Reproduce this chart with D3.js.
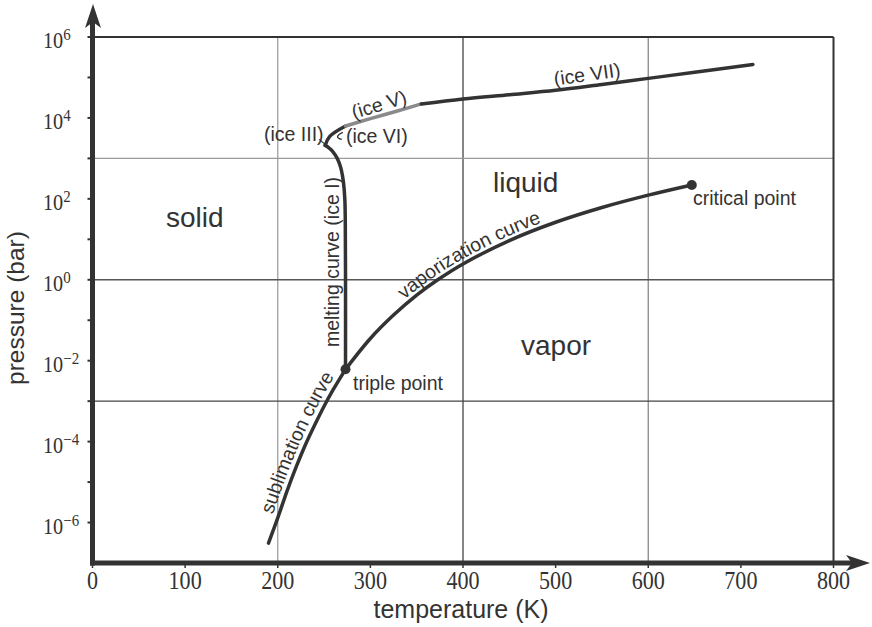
<!DOCTYPE html>
<html>
<head>
<meta charset="UTF-8">
<title>Phase diagram of water</title>
<script src="https://cdn.jsdelivr.net/npm/d3@7/dist/d3.min.js"></script>
<style>
  body { margin: 0; background: #fff; }
  text { fill: #333; font-family: "Liberation Sans", Arial, sans-serif; }
  .tick { font-family: "Liberation Serif", "Times New Roman", serif; }
</style>
</head>
<body>
<svg id="chart" width="872" height="627"></svg>
<script>
// sublimation curve (ice I / vapor), K and bar
var subT = [190, 200, 210, 220, 230, 240, 250, 260, 273.16];
var subP = [3.1e-7, 1.3e-6, 6.0e-6, 2.4e-5, 8.5e-5, 2.6e-4, 7.5e-4, 1.95e-3, 6.12e-3];
// vaporization curve (liquid / vapor) up to the critical point
var vapT = [273.16, 300, 325, 350, 373.15, 400, 450, 500, 550, 600, 647];
var vapP = [6.12e-3, 3.54e-2, 0.134, 0.417, 1.013, 2.46, 9.32, 26.4, 61.2, 123.5, 220.6];
// melting curve of ice I
var meltT = [273.16, 273.16, 272.9, 272.4, 271.0, 268.8, 266.5, 264.2, 259.2, 255.5, 251.165];
var meltP = [6.12e-3, 1, 30, 100, 250, 500, 750, 1000, 1500, 1800, 2099];
// high pressure ice boundaries
var ice3T = [251.165, 256.165, 273.31];
var ice3P = [2099, 3501, 6324];
var ice5T = [273.31, 300, 330, 355];
var ice5P = [6324, 9600, 15000, 22160];
var ice7T = [355, 400, 450, 500, 550, 600, 650, 713];
var ice7P = [22160, 29500, 37500, 48000, 67000, 95000, 134000, 210000];
// special points
var tripleT = 273.16, tripleP = 6.12e-3;
var critT = 647, critP = 220.6;

var xTicks = [0, 100, 200, 300, 400, 500, 600, 700, 800];
var yTickExp = [-6, -4, -2, 0, 2, 4, 6];
var yMinorExp = [-5, -3, -1, 1, 3, 5];
var gridT = [200, 400, 600];
var gridP = [1e-6, 1e-3, 1, 1e3];

var gridColT = { 200: "#a0a0a0", 400: "#444", 600: "#888" };
var gridColP = { "1e-6": "#444", "0.001": "#444", "1": "#555", "1000": "#999" };

var svg = d3.select("#chart");
var x = d3.scaleLinear().domain([0, 800]).range([92.5, 833.5]);
var y = d3.scaleLog().domain([1e-7, 1e6]).range([563, 37]);

function pts(T, P) { return T.map(function (t, i) { return [t, P[i]]; }); }
var line = d3.line().x(function (d) { return x(d[0]); }).y(function (d) { return y(d[1]); })
    .curve(d3.curveCatmullRom);

// grid
svg.selectAll(".gx").data(gridT).enter().append("line")
    .attr("x1", function (d) { return x(d); }).attr("x2", function (d) { return x(d); })
    .attr("y1", y(1e6)).attr("y2", y(1e-7))
    .style("stroke", function (d) { return gridColT[d]; }).style("stroke-width", 1.3);
svg.selectAll(".gy").data(gridP).enter().append("line")
    .attr("x1", x(0)).attr("x2", x(800))
    .attr("y1", function (d) { return y(d); }).attr("y2", function (d) { return y(d); })
    .style("stroke", function (d) { return gridColP[String(d)]; }).style("stroke-width", 1.3);
// frame top / right
svg.append("line").attr("x1", x(0)).attr("x2", x(800)).attr("y1", y(1e6)).attr("y2", y(1e6))
    .style("stroke", "#333").style("stroke-width", 2);
svg.append("line").attr("x1", x(800)).attr("x2", x(800)).attr("y1", y(1e6)).attr("y2", y(1e-7))
    .style("stroke", "#333").style("stroke-width", 2);

// curves
var curveDefs = [
    { id: "subPath", T: subT, P: subP, col: "#333" },
    { id: "vapPath", T: vapT, P: vapP, col: "#333" },
    { id: "meltPath", T: meltT, P: meltP, col: "#333" },
    { id: "ice3Path", T: ice3T, P: ice3P, col: "#333" },
    { id: "ice5Path", T: ice5T, P: ice5P, col: "#8a8a8a" },
    { id: "ice7Path", T: ice7T, P: ice7P, col: "#333" }
];
curveDefs.forEach(function (c) {
    svg.append("path").attr("id", c.id)
        .attr("d", line(pts(c.T, c.P)))
        .style("fill", "none").style("stroke", c.col).style("stroke-width", 3.5)
        .style("stroke-linecap", "round");
});

// small leader marks
var jx = x(ice3T[0]), jy = y(ice3P[0]);
svg.append("line").attr("x1", jx - 6).attr("y1", jy - 6).attr("x2", jx).attr("y2", jy - 1)
    .style("stroke", "#333").style("stroke-width", 1.2);
var kx = x(ice3T[1]), ky = y(ice3P[1]);
svg.append("path")
    .attr("d", "M" + (kx + 13) + "," + (ky - 4) + " Q" + (kx + 3) + "," + (ky + 1) + " " + (kx + 12) + "," + (ky + 3))
    .style("fill", "none").style("stroke", "#333").style("stroke-width", 1.4);

// points
svg.selectAll(".pt").data([[tripleT, tripleP], [critT, critP]]).enter().append("circle")
    .attr("cx", function (d) { return x(d[0]); }).attr("cy", function (d) { return y(d[1]); })
    .attr("r", 5).style("fill", "#333");

// axes
svg.append("line").attr("x1", x(0)).attr("x2", x(0)).attr("y1", 565.5).attr("y2", 22)
    .style("stroke", "#333").style("stroke-width", 5);
svg.append("line").attr("x1", 90).attr("x2", 855).attr("y1", y(1e-7)).attr("y2", y(1e-7))
    .style("stroke", "#333").style("stroke-width", 5);
svg.append("path").attr("d", "M93,4 L101,28 L93,22 L85,28 Z").style("fill", "#333");
svg.append("path").attr("d", "M870,563 L846,555 L852,563 L846,571 Z").style("fill", "#333");

// y ticks
svg.selectAll(".ty").data(yTickExp.concat(yMinorExp)).enter().append("line")
    .attr("x1", x(0) - 5).attr("x2", x(0))
    .attr("y1", function (d) { return y(Math.pow(10, d)); }).attr("y2", function (d) { return y(Math.pow(10, d)); })
    .style("stroke", "#333").style("stroke-width", 2);
var yl = svg.selectAll(".yl").data(yTickExp).enter().append("text").attr("class", "tick")
    .attr("transform", function (d) { return "translate(43," + (y(Math.pow(10, d)) + 11) + ") scale(0.88,1)"; });
yl.append("tspan").style("font-size", "23px").text("10");
yl.append("tspan").style("font-size", "17px").attr("dy", -8)
    .text(function (d) { return d < 0 ? "\u2212" + (-d) : d; });

// x ticks
svg.selectAll(".tx").data(xTicks).enter().append("line")
    .attr("x1", function (d) { return x(d); }).attr("x2", function (d) { return x(d); })
    .attr("y1", y(1e-7)).attr("y2", y(1e-7) + 5)
    .style("stroke", "#333").style("stroke-width", 1.5);
svg.selectAll(".xl").data(xTicks).enter().append("text").attr("class", "tick")
    .attr("transform", function (d) { return "translate(" + x(d) + ",589) scale(0.85,1)"; })
    .attr("text-anchor", "middle").style("font-size", "26px").text(function (d) { return d; });

// axis titles
svg.append("text").attr("x", 461).attr("y", 618).attr("text-anchor", "middle")
    .style("font-size", "25px").text("temperature (K)");
svg.append("text").attr("transform", "translate(24,308) rotate(-90)").attr("text-anchor", "middle")
    .style("font-size", "24.5px").text("pressure (bar)");

// region labels
svg.append("text").attr("x", 166).attr("y", 227).style("font-size", "28px").text("solid");
svg.append("text").attr("x", 493).attr("y", 192).style("font-size", "28px").text("liquid");
svg.append("text").attr("x", 521).attr("y", 355).style("font-size", "28px").text("vapor");

// labels along curves
function offsetAt(id, test) {
    var p = document.getElementById(id), L = p.getTotalLength();
    for (var l = 0; l < L; l += 0.5) { if (test(p.getPointAtLength(l))) return l; }
    return 0;
}
svg.append("g").attr("transform", "translate(-5,-3)")
    .append("text").style("font-size", "19.5px")
    .append("textPath").attr("href", "#subPath")
    .attr("startOffset", offsetAt("subPath", function (p) { return p.y <= 518; }))
    .text("sublimation curve");
svg.append("g").attr("transform", "translate(-2,-4)")
    .append("text").style("font-size", "19.5px")
    .append("textPath").attr("href", "#vapPath")
    .attr("startOffset", offsetAt("vapPath", function (p) { return p.x >= 406; }))
    .text("vaporization curve");
svg.append("text").attr("transform", "translate(339,262) rotate(-90)").attr("text-anchor", "middle")
    .style("font-size", "19.5px").text("melting curve (ice I)");

// ice labels
svg.append("text").attr("transform", "translate(588,81) rotate(-8)").attr("text-anchor", "middle")
    .style("font-size", "19.5px").text("(ice VII)");
svg.append("text").attr("transform", "translate(381,111) rotate(-17)").attr("text-anchor", "middle")
    .style("font-size", "19.5px").text("(ice V)");
svg.append("text").attr("x", 264).attr("y", 141).style("font-size", "19.5px").text("(ice III)");
svg.append("text").attr("x", 346).attr("y", 143).style("font-size", "19.5px").text("(ice VI)");

// point labels
svg.append("text").attr("x", 353).attr("y", 390).style("font-size", "19.5px").text("triple point");
svg.append("text").attr("x", 693).attr("y", 205).style("font-size", "19.5px").text("critical point");
</script>
</body>
</html>
